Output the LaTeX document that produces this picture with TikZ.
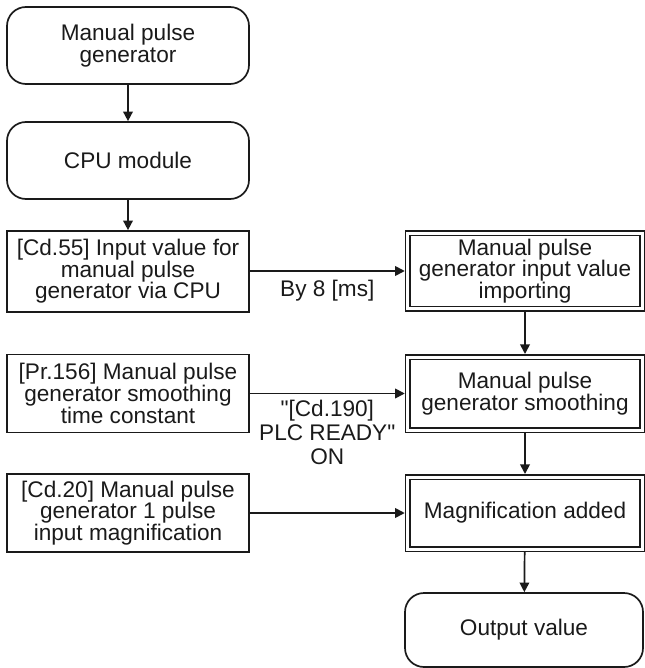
\documentclass[tikz,border=0pt]{standalone}
\usepackage{fontspec}
\setmainfont{Liberation Sans}[Ligatures=TeXOff]
\usetikzlibrary{positioning,arrows.meta}
\definecolor{ink}{HTML}{1A1A1A}
\newcommand{\lcol}{128}
\newcommand{\rcol}{525}

\begin{document}
\begin{tikzpicture}[
  x=0.5pt, y=-0.5pt,
  font=\fontsize{11.3}{10.8}\selectfont\color{ink},
  term/.style={draw=ink, line width=0.85pt, rounded corners=9.5pt, align=center,
    minimum width=121pt, minimum height=38.5pt, inner sep=2pt},
  databox/.style={draw=ink, line width=0.85pt, align=center,
    minimum width=121pt, minimum height=39pt, inner sep=2pt},
  procbox/.style={draw=ink, line width=0.75pt, double=white, double distance=1.5pt,
    align=center, minimum width=117.25pt, minimum height=37pt, inner sep=2pt,
    outer sep=1.5pt},
  flow/.style={-{Triangle[length=4.8pt,width=4.8pt]}, line width=0.85pt, draw=ink},
  lab/.style={align=center, inner sep=4pt},
]
\useasboundingbox (0,0) rectangle (644,668);

% ---- Left column: sources ---------------------------------------------------
\node[term] (mpg) at (\lcol, 45.5) {Manual pulse\\generator};
\node[term] (cpu) at (\lcol, 160.5) {CPU module};
\node[databox, minimum height=40.5pt] (cd55) at (\lcol, 271.5)
  {[Cd.55] Input value for\\manual pulse\\generator via CPU};
\node[databox] (pr156) at (\lcol, 393.5)
  {[Pr.156] Manual pulse\\generator smoothing\\time constant};
\node[databox] (cd20) at (\lcol, 513)
  {[Cd.20] Manual pulse\\generator 1 pulse\\input magnification};

% ---- Right column: processing -----------------------------------------------
\node[procbox, minimum height=37.75pt] (imp) at (\rcol, 271)
  {Manual pulse\\generator input value\\importing};
\node[procbox, minimum height=36.5pt] (smooth) at (\rcol, 393.5)
  {Manual pulse\\generator smoothing};
\node[procbox, minimum height=36pt] (mag) at (\rcol, 513) {Magnification added};
\node[term, minimum width=119pt, minimum height=37pt] (out) at (524, 630)
  {Output value};

% ---- Connectors ---------------------------------------------------------------
\draw[flow] (mpg) -- (cpu);
\draw[flow] (cpu) -- (cd55);
\draw[flow] (cd55.east |- imp.west) -- node[lab, below] {By 8 [ms]} (imp.west);
\draw[flow] (pr156) -- node[lab, below, inner sep=3pt,
    font=\fontsize{11.3}{12}\selectfont\color{ink}]
  {"[Cd.190]\\PLC READY"\\ON} (smooth);
\draw[flow] (cd20) -- (mag);
\draw[flow] (imp) -- (smooth);
\draw[flow] (smooth) -- (mag);
\draw[flow] (mag) -- (out);

\end{tikzpicture}
\end{document}
